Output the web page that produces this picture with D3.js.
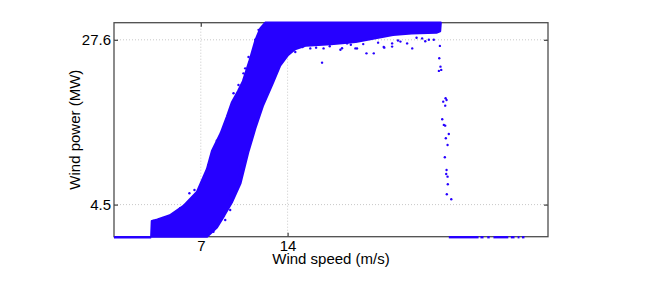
<!DOCTYPE html>
<html>
<head>
<meta charset="utf-8">
<script src="https://cdn.jsdelivr.net/npm/d3@7"></script>
<style>
	body { margin: 0; background: #fff; }
	text { font-family: "Liberation Sans", Arial, Helvetica, sans-serif; fill: #000; }
</style>
</head>
<body>
<div id="chart"></div>
<script>
	// axis ticks
	var xTicks = [7, 14];
	var yTicks = [4.5, 27.6];

	// dense cloud of points, read as its upper and lower envelope
	var upperSpeed = [3.0, 3.05, 3.5, 4.5, 5.6, 6.7, 7.5, 7.9, 8.6, 9.1, 9.5, 10.0, 10.4, 10.9, 11.4, 11.8, 12.2];
	var upperPower = [0, 2.2, 2.4, 3.0, 4.3, 6.3, 9.5, 12.0, 14.5, 16.8, 18.8, 20.4, 21.8, 24.5, 27.5, 29.2, 30];
	var lowerSpeed = [7.5, 8.3, 8.9, 9.5, 10.2, 10.85, 11.4, 12.0, 12.8, 13.4, 14.0, 14.6, 15.5, 17.5, 19.5, 21.0, 22.5, 24.0, 26.0, 26.3, 26.35];
	var lowerPower = [0, 1.3, 3.0, 4.8, 7.5, 12.0, 15.2, 18.3, 21.5, 24.0, 25.4, 26.3, 26.8, 27.0, 27.3, 27.8, 28.3, 28.5, 28.6, 28.8, 30];

	// zero power rows (speed from, speed to)
	var zeroFrom = [0, 27.0, 29.55, 30.1, 30.6, 32.0, 32.55, 32.9];
	var zeroTo = [3.0, 29.4, 29.8, 30.3, 31.8, 32.3, 32.7, 33.1];

	// scattered points outside the dense cloud
	var outSpeed = [3.18, 3.93, 5.33, 6.08, 6.49, 7.08, 7.62, 7.75, 8.02, 8.78, 8.97, 9.37, 9.37, 9.91, 10.12,
		8.29, 8.02, 9.64, 10.04, 10.44, 11.79, 11.39, 13.0, 10.44, 10.18,
		16.78, 10.85, 10.58, 11.39, 11.66, 12.87, 13.68, 14.62, 15.83, 16.9, 18.26, 19.47,
		18.39, 18.8, 19.6, 20.36, 20.95, 21.75, 22.43, 23.1, 23.64, 24.05, 24.85, 25.39, 25.79, 21.8, 22.43,
		15.2, 17.4, 20.1, 21.3, 22.9, 24.4, 25.1, 19.1, 16.3,
		26.28, 26.23, 26.33, 26.2, 26.39, 26.74, 26.82, 26.55, 26.71, 26.47, 26.6, 26.71, 27.0, 26.76, 26.9,
		26.68, 26.82, 26.79, 26.9, 26.92, 26.84, 27.2];
	var outPower = [2.2, 2.5, 4.0, 6.1, 6.55, 7.5, 10.06, 1.18, 0.7, 3.28, 2.34, 3.74, 5.85, 7.71, 8.65,
		13.46, 11.92, 20.1, 21.27, 22.9, 17.77, 16.6, 22.7, 11.2, 9.8,
		24.4, 25.2, 23.6, 27.6, 29.0, 22.4, 25.0, 25.9, 26.4, 26.4, 26.2, 26.4,
		26.42, 27.1, 26.4, 25.7, 25.7, 26.6, 27.1, 27.35, 27.1, 26.4, 27.8, 27.6, 27.6, 26.5, 26.65,
		26.6, 26.7, 27.0, 27.2, 27.5, 27.9, 27.4, 26.9, 26.5,
		26.75, 25.02, 23.84, 23.24, 23.38, 19.41, 19.17, 18.93, 18.37, 16.47, 15.67, 15.57, 14.4, 13.8, 12.86,
		11.14, 9.35, 8.79, 8.42, 7.35, 5.95, 5.25];

	var blue = "#2600ff";
	var width = 664, height = 285;
	var plotLeft = 114, plotRight = 548, plotTop = 22.7, plotBottom = 236.7;

	var x = d3.scaleLinear().domain([0, 35]).range([plotLeft, plotRight]);
	var y = d3.scaleLinear().domain([0, 30]).range([plotBottom, plotTop]);

	var svg = d3.select("#chart")
		.append("svg")
			.attr("width", width)
			.attr("height", height);

	// grid
	svg.append("g")
		.selectAll("line")
		.data(xTicks)
		.enter()
			.append("line")
			.attr("x1", d => x(d)).attr("x2", d => x(d))
			.attr("y1", plotTop).attr("y2", plotBottom)
			.attr("stroke", "#c8c8c8")
			.attr("stroke-dasharray", "1,2");

	svg.append("g")
		.selectAll("line")
		.data(yTicks)
		.enter()
			.append("line")
			.attr("x1", plotLeft).attr("x2", plotRight)
			.attr("y1", d => y(d)).attr("y2", d => y(d))
			.attr("stroke", "#c8c8c8")
			.attr("stroke-dasharray", "1,2");

	// axes, ticks pointing inward like matlab
	var axisStyle = g => {
		g.select(".domain").remove();
		g.selectAll("line").attr("stroke", "#4d4d4d").attr("stroke-width", 1.3);
		g.selectAll("text").style("font-size", "15px").attr("fill", "#000");
	};

	svg.append("g")
		.attr("transform", "translate(0," + plotBottom + ")")
		.call(d3.axisBottom(x).tickValues(xTicks).tickSize(-4).tickPadding(4).tickFormat(d3.format("d")))
		.call(axisStyle);

	svg.append("g")
		.attr("transform", "translate(0," + plotTop + ")")
		.call(d3.axisTop(x).tickValues(xTicks).tickSize(-4).tickFormat(""))
		.call(axisStyle);

	svg.append("g")
		.attr("transform", "translate(" + plotLeft + ",0)")
		.call(d3.axisLeft(y).tickValues(yTicks).tickSize(-4).tickPadding(3).tickFormat(d3.format(".1f")))
		.call(axisStyle);

	svg.append("g")
		.attr("transform", "translate(" + plotRight + ",0)")
		.call(d3.axisRight(y).tickValues(yTicks).tickSize(-4).tickFormat(""))
		.call(axisStyle);

	svg.append("rect")
		.attr("x", plotLeft).attr("y", plotTop)
		.attr("width", plotRight - plotLeft).attr("height", plotBottom - plotTop)
		.attr("fill", "none")
		.attr("stroke", "#4d4d4d")
		.attr("stroke-width", 1.3);

	// dense cloud
	var cloud = [];
	for (let i = 0; i < upperSpeed.length; i++) {
		cloud.push([upperSpeed[i], upperPower[i]]);
	}
	for (let i = lowerSpeed.length - 1; i >= 0; i--) {
		cloud.push([lowerSpeed[i], lowerPower[i]]);
	}

	var line = d3.line()
		.x(d => x(d[0]))
		.y(d => y(d[1]));

	svg.append("path")
		.attr("d", line(cloud) + "Z")
		.attr("fill", blue)
		.attr("stroke", blue)
		.attr("stroke-width", 2.2)
		.attr("stroke-linejoin", "round");

	// zero power rows
	svg.append("g")
		.selectAll("line")
		.data(zeroFrom)
		.enter()
			.append("line")
			.attr("x1", d => x(d))
			.attr("x2", (d, i) => x(zeroTo[i]))
			.attr("y1", y(0) + 0.5).attr("y2", y(0) + 0.5)
			.attr("stroke", blue)
			.attr("stroke-width", 2.4);

	// single points
	svg.append("g")
		.selectAll("circle")
		.data(outSpeed)
		.enter()
			.append("circle")
			.attr("cx", d => x(d))
			.attr("cy", (d, i) => y(outPower[i]))
			.attr("r", 1.2)
			.attr("fill", blue);

	// labels
	svg.append("text")
		.attr("x", (plotLeft + plotRight) / 2)
		.attr("y", 264)
		.attr("text-anchor", "middle")
		.style("font-size", "15px")
		.text("Wind speed (m/s)");

	svg.append("text")
		.attr("transform", "translate(80," + ((plotTop + plotBottom) / 2) + ") rotate(-90)")
		.attr("text-anchor", "middle")
		.style("font-size", "15px")
		.text("Wind power (MW)");
</script>
</body>
</html>
